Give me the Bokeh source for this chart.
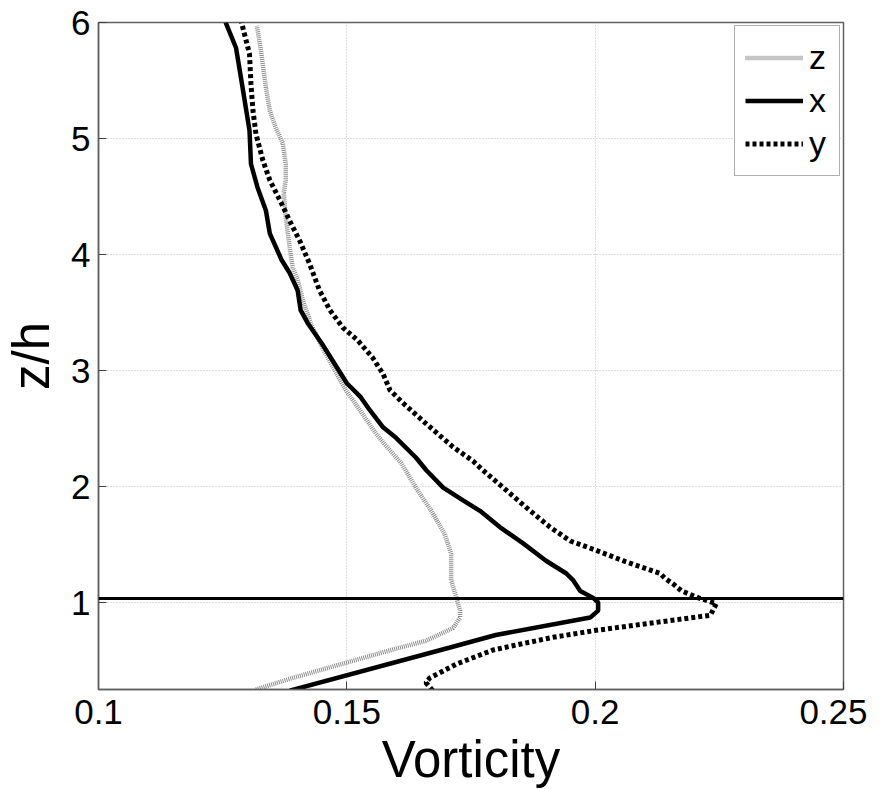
from bokeh.plotting import figure
from bokeh.models import Range1d, FixedTicker, Span, Legend, LegendItem
from bokeh.embed import file_html
from bokeh.resources import INLINE

# ---- data ----
x_ticks = [0.1, 0.15, 0.2, 0.25]
x_tick_labels = ["0.1", "0.15", "0.2", "0.25"]
y_ticks = [1, 2, 3, 4, 5, 6]
interface_z = 1.035

# z component (light grey dotted)
z_comp_h = [0.25, 0.35, 0.48, 0.595, 0.67, 0.78, 0.87, 0.93, 1.08, 1.19, 1.42, 1.59, 1.77,
            1.99, 2.20, 2.37, 2.46, 2.66, 2.83, 3.03, 3.20, 3.40, 3.60, 3.78, 3.89, 4.06,
            4.32, 4.53, 4.64, 4.78, 4.96, 5.09, 5.24, 5.44, 5.76, 5.97]
z_comp_w = [0.1317, 0.1391, 0.1498, 0.1593, 0.1659, 0.1714, 0.1728, 0.1728, 0.1718, 0.1710,
            0.1710, 0.1697, 0.1673, 0.1639, 0.1610, 0.1575, 0.1558, 0.1526, 0.1498, 0.1472,
            0.1450, 0.1428, 0.1412, 0.1401, 0.1391, 0.1385, 0.1377, 0.1373, 0.1377, 0.1377,
            0.1371, 0.1357, 0.1345, 0.1337, 0.1327, 0.1319]

# x component (black solid)
x_comp_h = [0.24, 0.61, 0.72, 0.87, 0.93, 1.00, 1.04, 1.10, 1.19, 1.25, 1.36,
            1.51, 1.65, 1.79, 1.88, 1.99, 2.14, 2.25, 2.42, 2.51, 2.66, 2.77, 2.89, 3.06,
            3.23, 3.41, 3.52, 3.69, 3.84, 3.95, 4.18, 4.38, 4.58, 4.78, 5.07, 5.44, 5.78, 6.00]
x_comp_w = [0.1385, 0.1706, 0.1800, 0.1990, 0.2006, 0.2006, 0.1996, 0.1970,
            0.1956, 0.1942, 0.1901, 0.1855, 0.1808, 0.1768, 0.1734, 0.1694, 0.1660, 0.1639,
            0.1599, 0.1573, 0.1546, 0.1528, 0.1500, 0.1475, 0.1450, 0.1421, 0.1407, 0.1401,
            0.1385, 0.1369, 0.1345, 0.1337, 0.1320, 0.1307, 0.1304, 0.1290, 0.1277, 0.1256]

# y component (black dotted)
y_comp_h = [0.24, 0.31, 0.35, 0.41, 0.47, 0.59, 0.61, 0.70, 0.76, 0.89, 0.99, 1.04, 1.10,
            1.16, 1.21, 1.25, 1.36, 1.45, 1.53, 1.65, 1.82, 1.99, 2.14, 2.22, 2.34, 2.54,
            2.72, 2.83, 2.97, 3.11, 3.26, 3.37, 3.52, 3.69, 3.92, 4.12, 4.29, 4.47, 4.64,
            4.81, 5.04, 5.24, 5.47, 5.73, 6.00]
y_comp_w = [0.1673, 0.1659, 0.1667, 0.1694, 0.1721, 0.1794, 0.1815, 0.1915, 0.2002, 0.2232,
            0.2244, 0.2208, 0.2174, 0.2157, 0.2140, 0.2131, 0.2056, 0.2002, 0.1950, 0.1909,
            0.1861, 0.1815, 0.1774, 0.1754, 0.1714, 0.1660, 0.1613, 0.1587, 0.1573, 0.1552,
            0.1522, 0.1492, 0.1466, 0.1445, 0.1425, 0.1405, 0.1385, 0.1365, 0.1345, 0.1331,
            0.1317, 0.1311, 0.1307, 0.1304, 0.1288]

FONT = "Liberation Sans"

p = figure(frame_width=745, frame_height=667, output_backend="svg", toolbar_location=None,
           x_range=Range1d(0.1, 0.25), y_range=Range1d(0.25, 6),
           min_border_left=88, min_border_top=22, min_border_right=24, min_border_bottom=92,
           background_fill_color="white", border_fill_color="white")
p.outline_line_color = "#606060"
p.outline_line_width = 1.5

for ax in (p.xaxis[0], p.yaxis[0]):
    ax.axis_line_color = "#606060"
    ax.axis_line_width = 1.5
    ax.major_tick_in = 8
    ax.major_tick_out = 0
    ax.major_tick_line_color = "#404040"
    ax.minor_tick_line_color = None
    ax.major_label_text_font = FONT
    ax.major_label_text_font_size = "35px"
    ax.major_label_text_color = "black"
    ax.axis_label_text_font = FONT
    ax.axis_label_text_font_size = "51px"
    ax.axis_label_text_font_style = "normal"
    ax.axis_label_text_color = "black"

p.xaxis[0].ticker = FixedTicker(ticks=x_ticks)
p.xaxis[0].major_label_overrides = dict(zip(x_ticks, x_tick_labels))
p.yaxis[0].ticker = FixedTicker(ticks=y_ticks)
p.xaxis[0].axis_label = "Vorticity"
p.yaxis[0].axis_label = "z/h"
p.xaxis[0].major_label_standoff = 10
p.yaxis[0].major_label_standoff = 8
p.xaxis[0].axis_label_standoff = 4
p.yaxis[0].axis_label_standoff = 8

for g in (p.xgrid[0], p.ygrid[0]):
    g.grid_line_color = "#bdbdbd"
    g.grid_line_dash = "1 2"
    g.grid_line_width = 1

r_z = p.line(z_comp_w, z_comp_h, line_color="#8c8c8c", line_width=4.5, line_dash="1 1")
r_x = p.line(x_comp_w, x_comp_h, line_color="black", line_width=4.5)
r_y = p.line(y_comp_w, y_comp_h, line_color="black", line_width=5, line_dash="4 3",
             line_cap="butt")

p.add_layout(Span(location=interface_z, dimension="width", line_color="black", line_width=3))

legend = Legend(items=[LegendItem(label="z", renderers=[r_z]),
                       LegendItem(label="x", renderers=[r_x]),
                       LegendItem(label="y", renderers=[r_y])],
                location="top_right", margin=3, padding=10, spacing=0,
                glyph_width=58, glyph_height=43, label_height=43, label_standoff=6,
                label_text_font=FONT, label_text_font_size="34px", label_text_color="black",
                border_line_color="#606060", border_line_width=1.5,
                background_fill_color="white", background_fill_alpha=1)
p.add_layout(legend)

open("out.html", "w").write(file_html(p, INLINE))
